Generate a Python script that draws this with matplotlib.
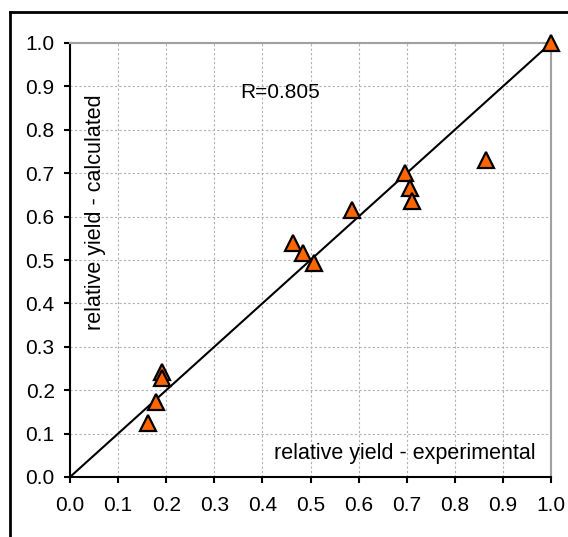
import matplotlib
matplotlib.use("Agg")
import matplotlib.pyplot as plt
from matplotlib.lines import Line2D

plt.rcParams['font.family'] = ['Liberation Sans', 'DejaVu Sans']

# data (relative yield)
experimental = [0.162, 0.178, 0.191, 0.192, 0.464, 0.485, 0.507, 0.587, 0.697, 0.706, 0.710, 0.864, 1.0]
calculated   = [0.125, 0.173, 0.241, 0.229, 0.539, 0.515, 0.493, 0.615, 0.700, 0.666, 0.637, 0.731, 1.0]
fit_x = [0.0, 1.0]
fit_y = [0.0, 1.0]
ticks = [0.0, 0.1, 0.2, 0.3, 0.4, 0.5, 0.6, 0.7, 0.8, 0.9, 1.0]
r_text = "R=0.805"
xlabel = "relative yield - experimental"
ylabel = "relative yield - calculated"

fig = plt.figure(figsize=(5.68, 5.37), dpi=100)
ax = fig.add_axes([70/568, 1 - 477/537, (551-70)/568, (477-43)/537])

ax.set_xlim(0, 1)
ax.set_ylim(0, 1)
ax.set_xticks(ticks)
ax.set_yticks(ticks)
ax.set_xticklabels([f"{t:.1f}" for t in ticks])
ax.set_yticklabels([f"{t:.1f}" for t in ticks])
ax.tick_params(direction='out', length=4, width=1.5, labelsize=15, colors='black')
ax.tick_params(axis='x', pad=10)
ax.tick_params(axis='y', pad=7)

ax.grid(True, color='#b0b0b0', linestyle=(0, (2, 2)), linewidth=0.8)
ax.set_axisbelow(True)

for s in ['left', 'bottom']:
    ax.spines[s].set_color('black')
    ax.spines[s].set_linewidth(1.5)
for s in ['top', 'right']:
    ax.spines[s].set_color('#a0a0a0')
    ax.spines[s].set_linewidth(1.5)

ax.plot(fit_x, fit_y, color='black', linewidth=1.5, zorder=2)
ax.plot(experimental, calculated, linestyle='none', marker='^', markersize=12,
        markerfacecolor='#FF6600', markeredgecolor='black', markeredgewidth=1.6,
        zorder=3, clip_on=False)

ax.text(0.436, 0.887, r_text, fontsize=15, ha='center', va='center')
ax.text(0.697, 0.055, xlabel, fontsize=15.5, ha='center', va='center')
ax.text(0.054, 0.61, ylabel, fontsize=15.5, ha='center', va='center', rotation=90)

# outer frame (partially visible)
fig.add_artist(Line2D([10/568, 10/568], [0, 1 - 12/537], transform=fig.transFigure, color='black', linewidth=2))
fig.add_artist(Line2D([10/568, 1], [1 - 12/537, 1 - 12/537], transform=fig.transFigure, color='black', linewidth=2))

fig.savefig("out.png", dpi=100)
